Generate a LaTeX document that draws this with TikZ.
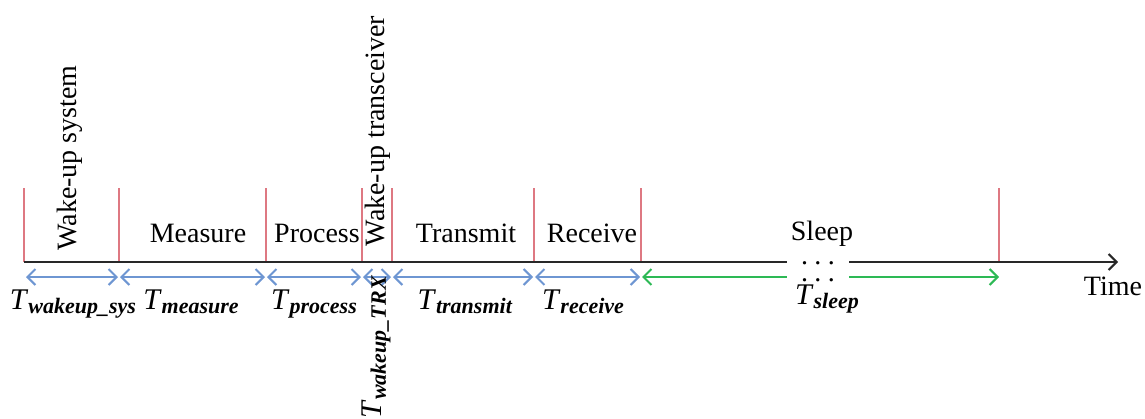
\documentclass[tikz,border=0pt]{standalone}
\usepackage{fontspec}
\setmainfont{Liberation Serif}
\usetikzlibrary{arrows.meta}
\definecolor{redl}{RGB}{222,120,130}
\definecolor{bluel}{RGB}{110,150,210}
\definecolor{greenl}{RGB}{45,185,85}
\definecolor{axisc}{RGB}{40,40,40}
\newcommand{\Tlab}[1]{\textit{T}\raisebox{-0.35ex}{\fontsize{11}{12}\selectfont\textbf{\textit{#1}}}}
\newcommand{\threedots}{.\hspace{3.2pt}.\hspace{3.2pt}.}
\tikzset{
  ticksty/.style={draw=redl, line width=0.6pt},
  dur/.style={draw=bluel, line width=1pt, {Straight Barb[length=4pt,width=8pt]}-{Straight Barb[length=4pt,width=8pt]}},
  durg/.style={draw=greenl, line width=1pt},
  axissty/.style={draw=axisc, line width=1pt},
  phase/.style={font=\fontsize{14}{16}\selectfont, inner sep=0pt},
  dotsty/.style={font=\fontsize{14}{16}\selectfont, inner sep=0pt, anchor=base},
  tlab/.style={font=\fontsize{15}{17}\selectfont, inner sep=0pt, anchor=base},
}
\begin{document}
\begin{tikzpicture}[x=0.5pt,y=-0.5pt]
\useasboundingbox (0,0) rectangle (1145,418);
% tick positions
\foreach \n/\x in {t0/24,t1/119,t2/266,t3/362,t4/392,t5/534,t6/641,t7/999}{
  \coordinate (\n) at (\x,262);
  \coordinate (\n top) at (\x,188);
  \coordinate (\n a) at (\x,277);
}
\coordinate (gapL) at (787,262);
\coordinate (gapR) at (849,262);
\coordinate (gapLa) at (787,277);
\coordinate (gapRa) at (849,277);
\coordinate (tend) at (1118,262);
% ticks
\foreach \n in {t0,t1,t2,t3,t4,t5,t6,t7}{
  \draw[ticksty] (\n top) -- (\n);
}
% axis
\draw[axissty] (t0) -- (gapL);
\draw[axissty,-{Straight Barb[length=4pt,width=8pt]}] (gapR) -- (tend);
% durations
\draw[dur] ([xshift=1pt]t0a) -- ([xshift=-0.5pt]t1a);
\draw[dur] ([xshift=0.5pt]t1a) -- ([xshift=-0.5pt]t2a);
\draw[dur] ([xshift=0.5pt]t2a) -- ([xshift=-0.5pt]t3a);
\draw[dur] ([xshift=0.5pt]t3a) -- ([xshift=-0.5pt]t4a);
\draw[dur] ([xshift=0.5pt]t4a) -- ([xshift=-0.5pt]t5a);
\draw[dur] ([xshift=0.5pt]t5a) -- ([xshift=-0.5pt]t6a);
\draw[durg,{Straight Barb[length=4pt,width=8pt]}-] ([xshift=0.5pt]t6a) -- (gapLa);
\draw[durg,-{Straight Barb[length=4pt,width=8pt]}] (gapRa) -- (t7a);
% dots
\node[dotsty] (dots1) at (818,264) {\threedots};
\node[dotsty] (dots2) at (818,281) {\threedots};
% phase labels
\node[phase, rotate=90] (wsys) at (70,158) {Wake-up system};
\node[phase] (meas) at (198,233) {Measure};
\node[phase] (proc) at (317,233) {Process};
\node[phase, rotate=90] (wtrx) at (378,131) {Wake-up transceiver};
\node[phase] (trans) at (466,233) {Transmit};
\node[phase] (recv) at (592,233) {Receive};
\node[phase] (sleep) at (822,234) {Sleep};
\node[phase] (time) at (1113,286) {Time};
% duration labels
\node[tlab] (Tsys) at (73,309) {\Tlab{wakeup\_sys}};
\node[tlab] (Tmeas) at (191,309) {\Tlab{measure}};
\node[tlab] (Tproc) at (314,309) {\Tlab{process}};
\node[tlab, rotate=90, anchor=center] (Ttrx) at (376,347) {\Tlab{wakeup\_TRX}};
\node[tlab] (Ttrans) at (465,309) {\Tlab{transmit}};
\node[tlab] (Trecv) at (583,309) {\Tlab{receive}};
\node[tlab] (Tsleep) at (827,304) {\Tlab{sleep}};
\end{tikzpicture}
\end{document}
